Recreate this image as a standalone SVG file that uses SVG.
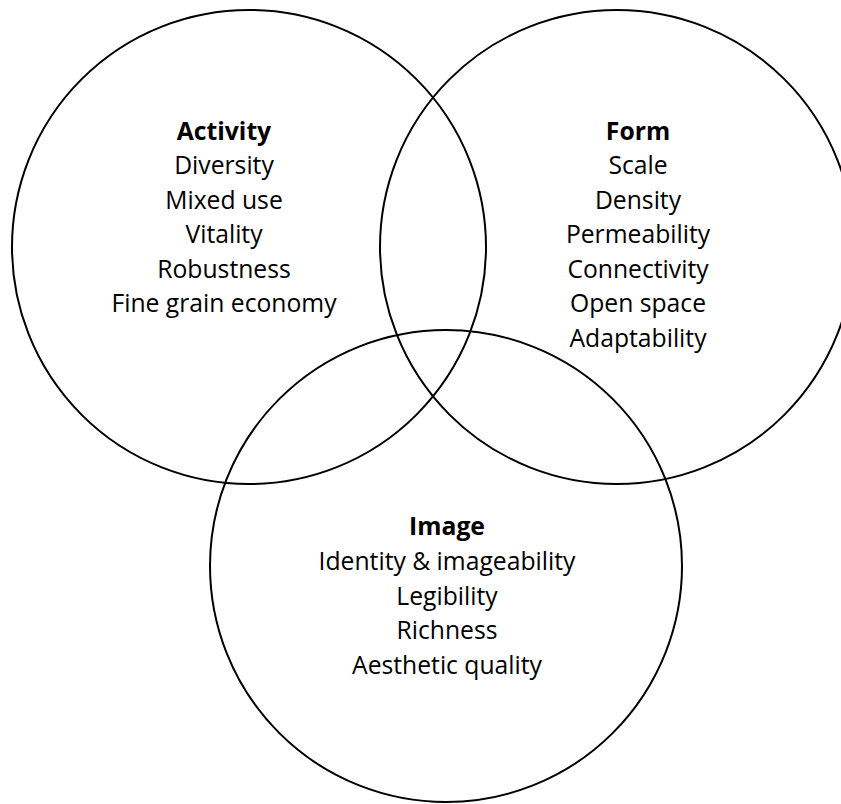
<svg xmlns="http://www.w3.org/2000/svg" width="841" height="804" viewBox="0 0 841 804">
<style>
.c{fill:none;stroke:#000;stroke-width:2}
text{font-family:"Open Sans","Liberation Sans",sans-serif;font-size:24.7px;fill:#000;text-anchor:middle}
.h{font-weight:bold}
</style>
<rect width="841" height="804" fill="#fff"/>
<g id="activity">
<circle class="c" cx="249" cy="247" r="237"/>
<text x="224" y="140" class="h">Activity</text>
<text x="224" y="174">Diversity</text>
<text x="224" y="209">Mixed use</text>
<text x="224" y="243">Vitality</text>
<text x="224" y="278">Robustness</text>
<text x="224" y="312">Fine grain economy</text>
</g>
<g id="form">
<circle class="c" cx="617" cy="247" r="237"/>
<text x="638" y="140" class="h">Form</text>
<text x="638" y="174">Scale</text>
<text x="638" y="209">Density</text>
<text x="638" y="243">Permeability</text>
<text x="638" y="278">Connectivity</text>
<text x="638" y="312">Open space</text>
<text x="638" y="347">Adaptability</text>
</g>
<g id="image">
<circle class="c" cx="446" cy="566" r="236"/>
<text x="447" y="535" class="h">Image</text>
<text x="447" y="570">Identity &amp; imageability</text>
<text x="447" y="605">Legibility</text>
<text x="447" y="639">Richness</text>
<text x="447" y="674">Aesthetic quality</text>
</g>
<g id="connectors"/>
</svg>
